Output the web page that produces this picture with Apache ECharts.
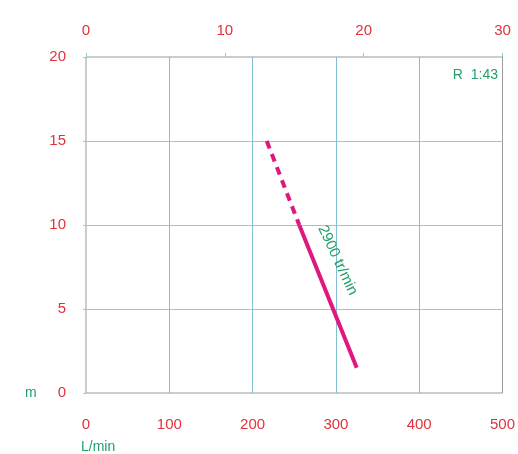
<!DOCTYPE html>
<html><head><meta charset="utf-8">
<script src="https://cdn.jsdelivr.net/npm/echarts@6/dist/echarts.min.js"></script>
<style>html,body{margin:0;padding:0;background:#fff}#c{width:518px;height:454px}</style>
</head><body><div id="c"></div>
<script>
var flowTicks = [0, 100, 200, 300, 400, 500];
var flowTopTicks = [0, 10, 20, 30];
var headTicks = [0, 5, 10, 15, 20];
var solidFlow = [256, 325];
var solidHead = [10, 1.5];
var dashFlow = [217, 256];
var dashHead = [15, 10];
var curveLabel = '2900 tr/min';
var curveLabelAt = [302, 7.9];
var ratioText = 'R  1:43';
var yUnit = 'm';
var xUnit = 'L/min';

var red = '#e0323c', green = '#23a06a', grid = '#8fcbdc', mag = '#e0177f';
var chart = echarts.init(document.getElementById('c'));
function pts(xs, ys){ return xs.map(function(x,i){return [x, ys[i]];}); }
chart.setOption({
  animation:false,
  textStyle:{fontFamily:'Liberation Sans, Arial, sans-serif'},
  grid:{left:86,right:12,top:57,bottom:61,show:true,borderColor:'#9a9a9a',borderWidth:1},
  xAxis:[{
    type:'value',position:'bottom',min:flowTicks[0],max:flowTicks[flowTicks.length-1],interval:100,
    axisLine:{show:false},axisTick:{show:false},
    axisLabel:{color:red,fontSize:15,margin:24},
    splitLine:{show:true,showMinLine:false,showMaxLine:false,lineStyle:{color:'#7fc0d2',width:1}}
  },{
    type:'value',position:'top',min:flowTopTicks[0],max:flowTopTicks[flowTopTicks.length-1],interval:10,
    axisLine:{show:false},axisTick:{show:true,length:4,inside:false,lineStyle:{color:grid}},
    axisLabel:{color:red,fontSize:15,margin:19},
    splitLine:{show:false}
  }],
  yAxis:{
    type:'value',min:headTicks[0],max:headTicks[headTicks.length-1],interval:5,
    axisLine:{show:false},axisTick:{show:true,length:3,lineStyle:{color:grid}},
    axisLabel:{color:red,fontSize:15,margin:20},
    splitLine:{show:true,showMinLine:false,showMaxLine:false,lineStyle:{color:grid,width:1}}
  },
  series:[{
    type:'line',data:pts(solidFlow,solidHead),symbol:'none',
    lineStyle:{color:mag,width:4}
  },{
    type:'line',data:pts(dashFlow,dashHead),symbol:'none',
    lineStyle:{color:mag,width:4,type:[8,6]},
    markPoint:{symbolSize:0,data:[{coord:curveLabelAt,value:curveLabel}],
      label:{show:true,formatter:curveLabel,color:green,fontSize:15,rotate:-65,position:'inside'}}
  }],
  graphic:[
    {type:'text',right:20,top:68,style:{text:ratioText,fill:green,fontSize:14,font:'14px Liberation Sans, Arial, sans-serif'}},
    {type:'text',left:25,top:386,style:{text:yUnit,fill:green,fontSize:14,font:'14px Liberation Sans, Arial, sans-serif'}},
    {type:'text',left:81,top:440,style:{text:xUnit,fill:green,fontSize:14,font:'14px Liberation Sans, Arial, sans-serif'}}
  ]
});
</script></body></html>
